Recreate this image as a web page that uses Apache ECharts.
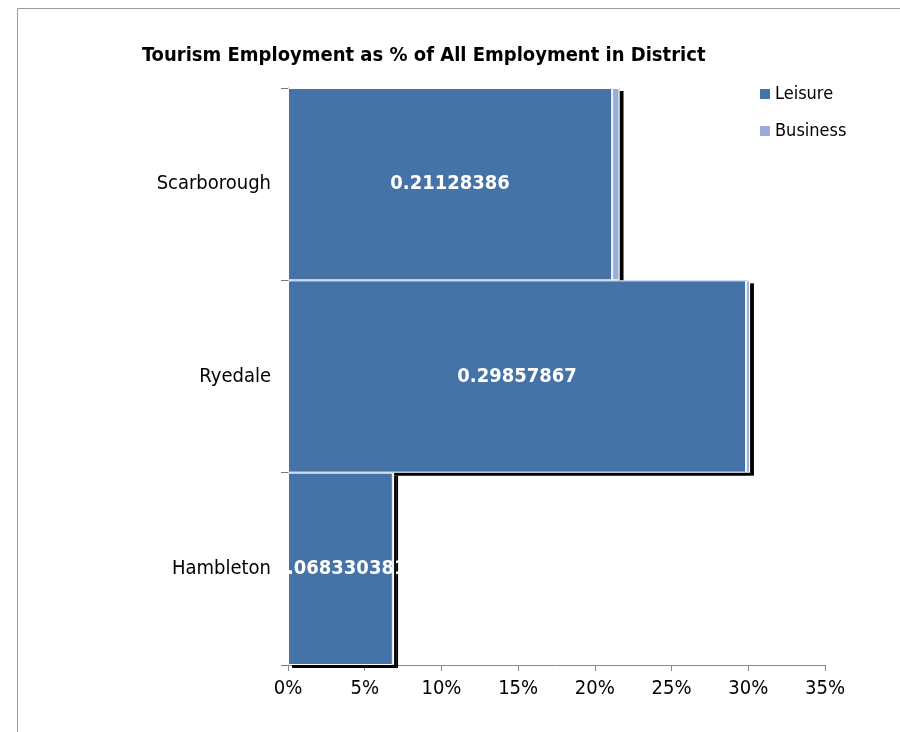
<!DOCTYPE html>
<html>
<head>
<meta charset="utf-8">
<script src="https://cdn.jsdelivr.net/npm/echarts@6/dist/echarts.min.js"></script>
<style>
  html, body { margin: 0; padding: 0; background: #fff; }
  #chart { width: 900px; height: 732px; }
</style>
</head>
<body>
<div id="chart"></div>
<script>
// 数据
const districts = ['Scarborough', 'Ryedale', 'Hambleton'];
const leisure = [0.21128386, 0.29857867, 0.068330381];
const business = [0.0048, 0.0025, 0.0008];
const xTicks = [0, 0.05, 0.1, 0.15, 0.2, 0.25, 0.3, 0.35];

const font = '"DejaVu Sans Condensed", "Liberation Sans", sans-serif';
const leisureColor = '#4572A7';
const businessColor = '#98AED8';

const chart = echarts.init(document.getElementById('chart'));

// 阴影层（无边框），上面再叠一层白边的柱子
const shadowStyle = (color) => ({
  color: color,
  shadowColor: '#000',
  shadowBlur: 0,
  shadowOffsetX: 4,
  shadowOffsetY: 3
});
const borderStyle = (color) => ({
  color: color,
  borderColor: '#fff',
  borderWidth: 1
});

chart.setOption({
  animation: false,
  backgroundColor: '#fff',
  title: {
    text: 'Tourism Employment as % of All Employment in District',
    left: 137,
    top: 41,
    textStyle: { fontFamily: font, fontSize: 20, fontWeight: 'bold', color: '#000' }
  },
  legend: {
    orient: 'vertical',
    left: 755,
    top: 80,
    itemGap: 19,
    itemWidth: 10,
    itemHeight: 10,
    icon: 'rect',
    textStyle: { fontFamily: font, fontSize: 18, color: '#000', padding: [0, 0, 0, 0] },
    data: ['Leisure', 'Business']
  },
  grid: { left: 288, right: 75, top: 88, bottom: 67 },
  xAxis: {
    type: 'value',
    min: 0,
    max: 0.35,
    interval: 0.05,
    axisLine: { show: true, lineStyle: { color: '#888' } },
    axisTick: { show: true, length: 6, lineStyle: { color: '#888' } },
    axisLabel: {
      fontFamily: font, fontSize: 20, color: '#000', margin: 14,
      formatter: (v) => Math.round(v * 100) + '%'
    },
    splitLine: { show: false }
  },
  yAxis: {
    type: 'category',
    inverse: true,
    data: districts,
    axisLine: { show: true, lineStyle: { color: '#888' } },
    axisTick: { show: true, length: 7, lineStyle: { color: '#777' } },
    axisLabel: { fontFamily: font, fontSize: 20, color: '#000', margin: 17, padding: [8, 0, 0, 0] }
  },
  series: [
    {
      name: 'Leisure',
      type: 'bar',
      stack: 'shadow',
      barCategoryGap: '0%',
      itemStyle: shadowStyle(leisureColor),
      data: leisure
    },
    {
      name: 'Business',
      type: 'bar',
      stack: 'shadow',
      barCategoryGap: '0%',
      itemStyle: shadowStyle(businessColor),
      data: business
    },
    {
      name: 'Leisure',
      type: 'bar',
      stack: 'top',
      barGap: '-100%',
      barCategoryGap: '0%',
      itemStyle: borderStyle(leisureColor),
      label: {
        show: true,
        position: 'inside',
        color: '#fff',
        fontFamily: font,
        fontSize: 20,
        fontWeight: 'bold',
        padding: [8, 0, 0, 0],
        formatter: (p) => String(p.value)
      },
      data: leisure
    },
    {
      name: 'Business',
      type: 'bar',
      stack: 'top',
      barGap: '-100%',
      barCategoryGap: '0%',
      itemStyle: borderStyle(businessColor),
      data: business
    }
  ],
  graphic: [
    {
      type: 'rect',
      silent: true,
      shape: { x: 17.5, y: 8.5, width: 1000, height: 1000 },
      style: { fill: 'none', stroke: '#999', lineWidth: 1 }
    }
  ]
});
</script>
</body>
</html>
